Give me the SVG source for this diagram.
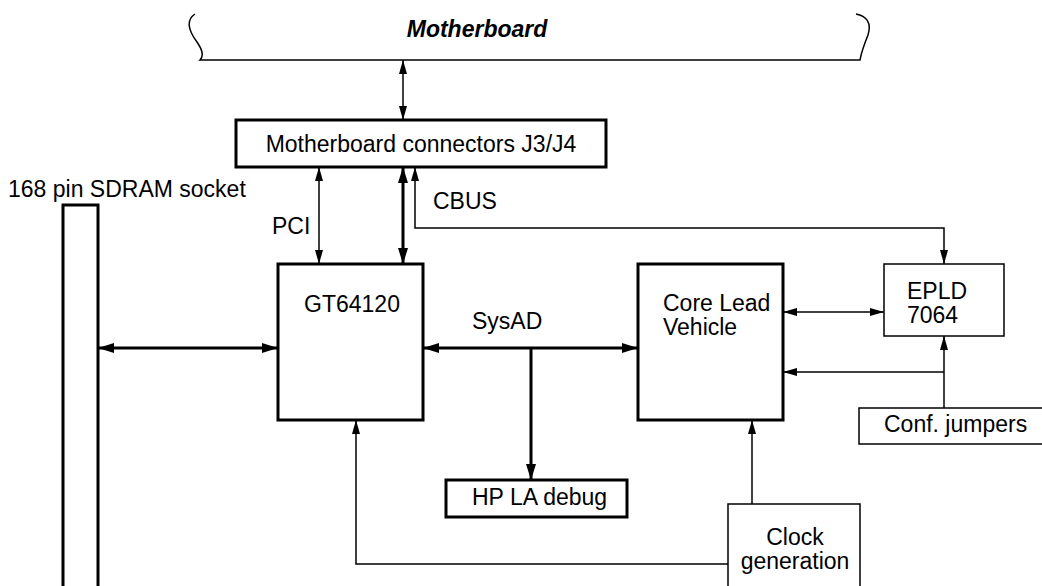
<svg xmlns="http://www.w3.org/2000/svg" width="1042" height="586" viewBox="0 0 1042 586">
<defs>
<style>
text{font-family:"Liberation Sans",Arial,sans-serif;font-size:23px;fill:#000}
.thick{fill:#fff;stroke:#000;stroke-width:3}
.thin{fill:#fff;stroke:#000;stroke-width:1.5}
.w{fill:none;stroke:#000;stroke-width:1.5}
.wt{fill:none;stroke:#000;stroke-width:3}
</style>
<marker id="a" viewBox="0 0 14 8" refX="14" refY="4" markerWidth="14" markerHeight="8" markerUnits="userSpaceOnUse" orient="auto-start-reverse"><path d="M0,0L14,4L0,8z" fill="#000"/></marker>
<marker id="at" viewBox="0 0 16 10" refX="16" refY="5" markerWidth="16" markerHeight="10" markerUnits="userSpaceOnUse" orient="auto-start-reverse"><path d="M0,0L16,5L0,10z" fill="#000"/></marker>
</defs>
<rect width="1042" height="586" fill="#fff"/>
<g id="motherboard">
<path class="w" d="M195,14 C186,20 188,30 197,42 C204,52 203,57 200,60 L860,60 C861,54 864,45 868,35 C872,22 866,16 856,14"/>
<text x="477" y="37" text-anchor="middle" font-weight="bold" font-style="italic" font-size="23.5">Motherboard</text>
</g>
<g id="connectors">
<rect class="thick" x="236" y="120" width="370" height="47"/>
<text x="421" y="152" text-anchor="middle">Motherboard connectors J3/J4</text>
</g>
<g id="sdram">
<text x="8" y="197">168 pin SDRAM socket</text>
<rect class="thick" x="63" y="205" width="35" height="400"/>
</g>
<g id="gt64120">
<rect class="thick" x="278" y="264" width="145" height="156"/>
<text x="352" y="312" text-anchor="middle">GT64120</text>
</g>
<g id="clv">
<rect class="thick" x="638" y="264" width="145" height="156"/>
<text x="663" y="311">Core Lead</text>
<text x="663" y="335">Vehicle</text>
</g>
<g id="epld">
<rect class="thin" x="884" y="264" width="120" height="72"/>
<text x="907" y="299">EPLD</text>
<text x="907" y="323">7064</text>
</g>
<g id="jumpers">
<rect class="thin" x="859" y="408" width="190" height="36"/>
<text x="884" y="432">Conf. jumpers</text>
</g>
<g id="hpla">
<rect class="thick" x="446" y="480" width="181" height="37"/>
<text x="472" y="505">HP LA debug</text>
</g>
<g id="clock">
<rect class="thin" x="728" y="504" width="132" height="100"/>
<text x="795" y="545" text-anchor="middle">Clock</text>
<text x="795" y="569" text-anchor="middle">generation</text>
</g>
<g id="connectors-lines">
<line class="w" x1="403" y1="60" x2="403" y2="120" marker-start="url(#a)" marker-end="url(#a)"/>
<line class="w" x1="319" y1="167" x2="319" y2="264" marker-start="url(#a)" marker-end="url(#a)"/>
<text x="272" y="234">PCI</text>
<line class="wt" x1="403" y1="167" x2="403" y2="264" marker-start="url(#at)" marker-end="url(#at)"/>
<polyline class="w" points="415,167 415,228 944,228 944,264" marker-start="url(#a)" marker-end="url(#a)"/>
<text x="433" y="209">CBUS</text>
<line class="wt" x1="98" y1="348" x2="278" y2="348" marker-start="url(#at)" marker-end="url(#at)"/>
<line class="wt" x1="423" y1="348" x2="638" y2="348" marker-start="url(#at)" marker-end="url(#at)"/>
<text x="472" y="329">SysAD</text>
<line class="wt" x1="531" y1="348" x2="531" y2="480" marker-end="url(#at)"/>
<line class="w" x1="783" y1="312" x2="884" y2="312" marker-start="url(#a)" marker-end="url(#a)"/>
<line class="w" x1="944" y1="408" x2="944" y2="336" marker-end="url(#a)"/>
<polyline class="w" points="944,372 783,372" marker-end="url(#a)"/>
<line class="w" x1="752" y1="504" x2="752" y2="420" marker-end="url(#a)"/>
<polyline class="w" points="728,564 356,564 356,420" marker-end="url(#a)"/>
</g>
</svg>
